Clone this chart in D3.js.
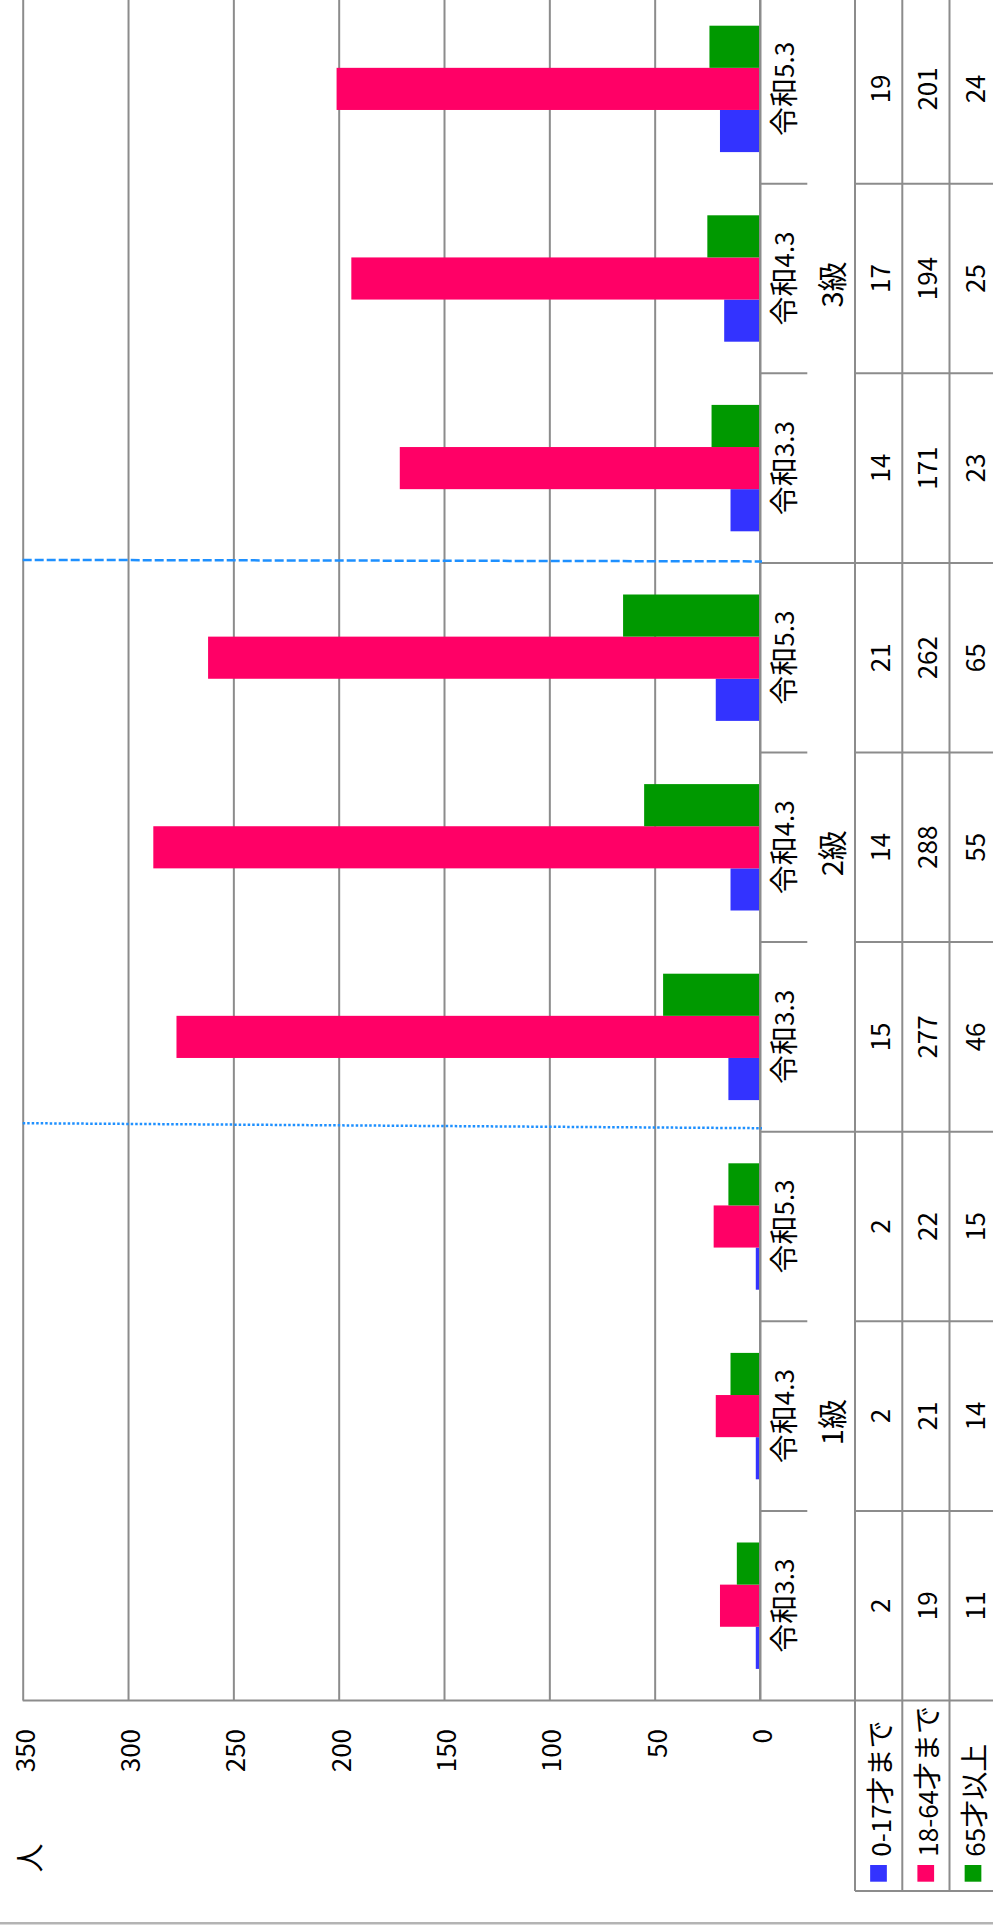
<!DOCTYPE html>
<html>
<head>
<meta charset="utf-8">
<script src="https://cdn.jsdelivr.net/npm/d3@7"></script>
<style>
  body { margin: 0; background: #fff; }
  text { font-family: "Noto Sans CJK JP", sans-serif; font-size: 26px; fill: #000; }
</style>
</head>
<body>
<div id="chart"></div>
<script>
// Data
const periods = ["令和3.3", "令和4.3", "令和5.3"];
const grades = ["1級", "2級", "3級"];
const seriesNames = ["0-17才まで", "18-64才まで", "65才以上"];
const seriesColors = ["#3333ff", "#ff0066", "#009900"];
const age0to17 = [2, 2, 2, 15, 14, 21, 14, 17, 19];
const age18to64 = [19, 21, 22, 277, 288, 262, 171, 194, 201];
const age65plus = [11, 14, 15, 46, 55, 65, 23, 25, 24];
const valueTicks = [0, 50, 100, 150, 200, 250, 300, 350];
const unitLabel = "人";

const seriesValues = [age0to17, age18to64, age65plus];
const categories = [];
grades.forEach((g, gi) => periods.forEach((p, pi) => categories.push({ grade: g, period: p, index: gi * 3 + pi })));

// kanji/kana come out a bit larger than the digits in the original
function mixedText(sel, str, cjkSize, latinSize) {
    const runs = [];
    for (const ch of str) {
        const cjk = ch.charCodeAt(0) > 0x2e80;
        if (runs.length && runs[runs.length - 1].cjk === cjk) {
            runs[runs.length - 1].t += ch;
        } else {
            runs.push({ cjk: cjk, t: ch });
        }
    }
    runs.forEach(r => {
        sel.append("tspan")
            .style("font-size", (r.cjk ? cjkSize : latinSize) + "px")
            .text(r.t);
    });
}

// Page is the chart turned a quarter turn; draw in the upright frame then rotate
const pageW = 993, pageH = 1928;
const svg = d3.select("#chart")
    .append("svg")
    .attr("width", pageW)
    .attr("height", pageH);
const g = svg.append("g")
    .attr("transform", "translate(0," + pageH + ") rotate(-90)");

const plotLeft = 227.5, catStep = 189.6;
const plotRight = plotLeft + catStep * categories.length;
const gridColor = "#8c8c8c";

var x = d3.scaleBand()
    .domain(categories.map(d => d.index))
    .range([plotLeft, plotRight])
    .padding(0);
var xs = d3.scaleBand()
    .domain([0, 1, 2])
    .range([0, x.bandwidth()])
    .paddingInner(0)
    .paddingOuter(0.75);
var y = d3.scaleLinear()
    .domain([0, 350])
    .range([760, 22.7]);

// gridlines
g.append("g")
    .attr("transform", "translate(" + plotLeft + ",0)")
    .call(d3.axisLeft(y).tickValues(valueTicks).tickSize(-(plotRight - plotLeft)).tickFormat(""))
    .call(s => s.select(".domain").remove())
    .selectAll("line")
    .attr("stroke", gridColor)
    .attr("stroke-width", 2);

// value labels
g.append("g")
    .attr("transform", "translate(" + plotLeft + ",0)")
    .call(d3.axisLeft(y).tickValues(valueTicks).tickSize(0).tickPadding(28.5))
    .call(s => s.select(".domain").remove())
    .selectAll("text")
    .attr("dy", null)
    .attr("dominant-baseline", "central")
    .style("font-family", "'Noto Sans CJK JP', sans-serif")
    .style("font-size", "26px")
    .attr("fill", "#000");

g.append("text")
    .attr("x", 70)
    .attr("y", 28)
    .attr("text-anchor", "middle")
    .attr("dominant-baseline", "central")
    .style("font-size", "29px")
    .text(unitLabel);

// bars
seriesValues.forEach((vals, si) => {
    g.append("g")
        .selectAll("rect")
        .data(categories)
        .join("rect")
        .attr("x", d => x(d.index) + xs(si))
        .attr("width", xs.bandwidth())
        .attr("y", d => y(vals[d.index]))
        .attr("height", d => y(0) - y(vals[d.index]))
        .attr("fill", seriesColors[si]);
});

// data table rows
const rowEdges = [855, 902.3, 949.5, 996.8];
const legendLeft = 37;

const lines = g.append("g").attr("stroke", gridColor).attr("stroke-width", 2);
// value axis baseline and plot start edge
lines.append("line").attr("x1", plotLeft).attr("x2", plotRight).attr("y1", y(0)).attr("y2", y(0));
lines.append("line").attr("x1", plotLeft).attr("x2", plotLeft).attr("y1", y(350)).attr("y2", pageW);
// row lines
rowEdges.forEach(r => {
    lines.append("line").attr("x1", legendLeft).attr("x2", plotRight).attr("y1", r).attr("y2", r);
});
lines.append("line").attr("x1", legendLeft).attr("x2", legendLeft).attr("y1", rowEdges[0]).attr("y2", pageW);
// category boundaries
categories.forEach((d, i) => {
    const bx = x(d.index) + x.bandwidth();
    const groupEdge = (i % 3 === 2);
    if (groupEdge) {
        lines.append("line").attr("x1", bx).attr("x2", bx).attr("y1", y(0)).attr("y2", pageW);
    } else {
        lines.append("line").attr("x1", bx).attr("x2", bx).attr("y1", y(0)).attr("y2", 807.3);
        lines.append("line").attr("x1", bx).attr("x2", bx).attr("y1", rowEdges[0]).attr("y2", pageW);
    }
});

// group separators in blue
const sepColor = "#1e90ff";
g.append("line")
    .attr("x1", x(6) + 3).attr("x2", x(6) + 1.5)
    .attr("y1", y(350)).attr("y2", y(0) + 2)
    .attr("stroke", sepColor).attr("stroke-width", 2.5)
    .attr("stroke-dasharray", "9,3");
g.append("line")
    .attr("x1", x(3) + 8.5).attr("x2", x(3) + 3.5)
    .attr("y1", y(350)).attr("y2", y(0) + 2)
    .attr("stroke", sepColor).attr("stroke-width", 2.5)
    .attr("stroke-dasharray", "2.5,2");

// category labels
g.append("g")
    .selectAll("text")
    .data(categories)
    .join("text")
    .attr("x", d => x(d.index) + x.bandwidth() / 2)
    .attr("y", 781.7)
    .attr("text-anchor", "middle")
    .attr("dominant-baseline", "central")
    .each(function (d) { mixedText(d3.select(this), d.period, 29, 26); });
g.append("g")
    .selectAll("text")
    .data(grades)
    .join("text")
    .attr("x", (d, i) => x(i * 3 + 1) + x.bandwidth() / 2 - 6)
    .attr("y", 830)
    .attr("text-anchor", "middle")
    .attr("dominant-baseline", "central")
    .each(function (d) { mixedText(d3.select(this), d, 30, 29); });

// table values and legend
seriesValues.forEach((vals, si) => {
    const cy = (rowEdges[si] + rowEdges[si + 1]) / 2;
    g.append("g")
        .selectAll("text")
        .data(categories)
        .join("text")
        .attr("x", d => x(d.index) + x.bandwidth() / 2)
        .attr("y", cy)
        .attr("text-anchor", "middle")
        .attr("dominant-baseline", "central")
        .text(d => vals[d.index]);
    g.append("rect")
        .attr("x", 46.3)
        .attr("y", cy - 8.5)
        .attr("width", 16.7)
        .attr("height", 16.7)
        .attr("fill", seriesColors[si]);
    g.append("text")
        .attr("x", 71.3)
        .attr("y", cy)
        .attr("dominant-baseline", "central")
        .each(function () { mixedText(d3.select(this), seriesNames[si], 28, 26); });
});

// outer border
g.append("line")
    .attr("x1", 4.7).attr("x2", 4.7)
    .attr("y1", 0).attr("y2", pageW)
    .attr("stroke", "#b4b4b4").attr("stroke-width", 2.5);
</script>
</body>
</html>
